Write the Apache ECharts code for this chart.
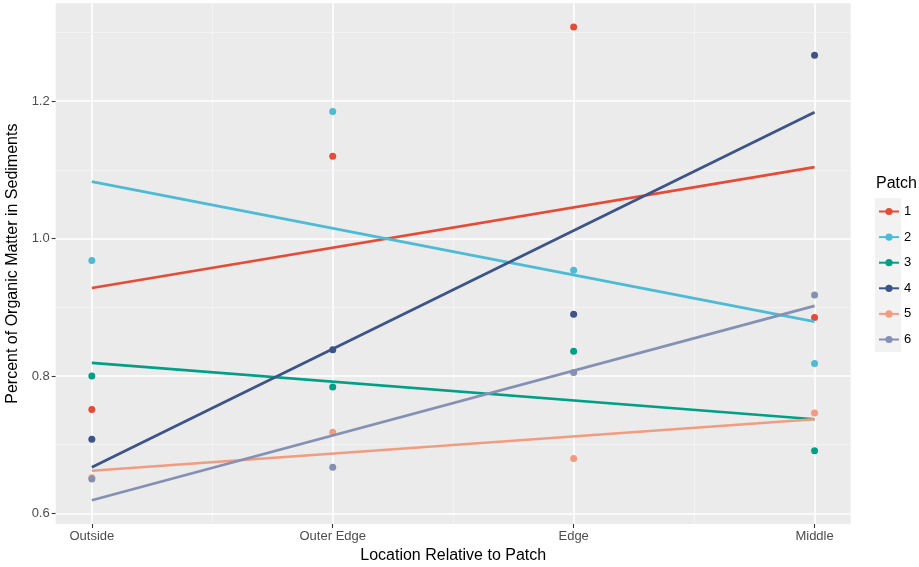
<!DOCTYPE html>
<html>
<head>
<meta charset="utf-8">
<script src="https://cdn.jsdelivr.net/npm/echarts@6/dist/echarts.min.js"></script>
<style>html,body{margin:0;padding:0;background:#fff}#c{width:919px;height:567px}</style>
</head>
<body>
<div id="c"></div>
<script>
// ---- data ----
var categories = ['Outside', 'Outer Edge', 'Edge', 'Middle'];
var patches = ['1', '2', '3', '4', '5', '6'];
var patch1 = [0.751, 1.120, 1.308, 0.885];
var patch2 = [0.968, 1.185, 0.954, 0.818];
var patch3 = [0.800, 0.784, 0.836, 0.691];
var patch4 = [0.708, 0.838, 0.890, 1.267];
var patch5 = [0.652, 0.718, 0.680, 0.746];
var patch6 = [0.650, 0.667, 0.805, 0.918];
// fitted trend line values at Outside and Middle
var fitOutside = [0.928, 1.083, 0.819, 0.667, 0.662, 0.619];
var fitMiddle  = [1.104, 0.879, 0.737, 1.184, 0.737, 0.902];
var yTicks = [0.6, 0.8, 1.0, 1.2];
var yMinor = [0.7, 0.9, 1.1, 1.3];
var xMinor = [1.5, 2.5, 3.5];

var colors = ['#E64B35', '#4DBBD5', '#00A087', '#3C5488', '#F39B7F', '#8491B4'];
var patchValues = [patch1, patch2, patch3, patch4, patch5, patch6];
var xPos = categories.map(function (c, i) { return i + 1; });

var chart = echarts.init(document.getElementById('c'), null, {renderer: 'canvas'});

var series = [];
// grid lines (panel decoration) on a dummy series
var gridLines = [];
xPos.forEach(function (x) { gridLines.push({xAxis: x, lineStyle: {color: '#ffffff', width: 1.6, type: 'solid'}}); });
xMinor.forEach(function (x) { gridLines.push({xAxis: x, lineStyle: {color: '#f5f5f5', width: 0.8, type: 'solid'}}); });
yTicks.forEach(function (y) { gridLines.push({yAxis: y, lineStyle: {color: '#ffffff', width: 1.6, type: 'solid'}}); });
yMinor.forEach(function (y) { gridLines.push({yAxis: y, lineStyle: {color: '#f5f5f5', width: 0.8, type: 'solid'}}); });
series.push({
  type: 'line', name: '_grid', data: [], z: 1, silent: true,
  markLine: {silent: true, symbol: ['none', 'none'], label: {show: false}, animation: false, data: gridLines, z: 1}
});

patches.forEach(function (p, i) {
  series.push({
    type: 'line', name: p, z: 4,
    data: [[1, fitOutside[i]], [categories.length, fitMiddle[i]]],
    showSymbol: false, symbol: 'circle', symbolSize: 7,
    lineStyle: {color: colors[i], width: 2.7},
    itemStyle: {color: colors[i]},
    animation: false
  });
});
patches.forEach(function (p, i) {
  series.push({
    type: 'scatter', name: p, z: 3,
    data: patchValues[i].map(function (v, j) { return [xPos[j], v]; }),
    symbol: 'circle', symbolSize: 7,
    itemStyle: {color: colors[i], opacity: 1},
    animation: false
  });
});

var option = {
  animation: false,
  backgroundColor: '#ffffff',
  title: [{
    text: 'Patch', left: 876, top: 176, padding: 0,
    textStyle: {fontFamily: 'Liberation Sans', fontSize: 16, fontWeight: 'normal', color: '#000000'}
  }],
  graphic: [{
    type: 'rect', left: 875, top: 198, z: 0,
    shape: {width: 26, height: 154},
    style: {fill: '#f2f2f2'}
  }],
  legend: {
    data: patches, orient: 'vertical', left: 878, top: 205, padding: 0,
    itemWidth: 20, itemHeight: 9, itemGap: 12.6,
    textStyle: {fontFamily: 'Liberation Sans', fontSize: 13, color: '#000000'},
    selectedMode: false
  },
  grid: {
    left: 55.7, right: 68.3, top: 3.3, bottom: 43,
    containLabel: false, outerBoundsMode: 'none',
    show: true, backgroundColor: '#EBEBEB', borderWidth: 0
  },
  xAxis: {
    type: 'value', min: 0.85, max: 4.15,
    name: 'Location Relative to Patch', nameLocation: 'middle', nameGap: 24,
    nameTextStyle: {fontFamily: 'Liberation Sans', fontSize: 16, color: '#000000'},
    axisLine: {show: false},
    axisTick: {show: true, length: 4, lineStyle: {color: '#333333', width: 1.1}, customValues: xPos},
    axisLabel: {
      customValues: xPos, margin: 6,
      fontFamily: 'Liberation Sans', fontSize: 13, color: '#4D4D4D',
      formatter: function (v) { return categories[Math.round(v) - 1] || ''; }
    },
    splitLine: {show: false}
  },
  yAxis: {
    type: 'value', min: 0.5845, max: 1.3425,
    name: 'Percent of Organic Matter in Sediments', nameLocation: 'middle', nameGap: 30, nameRotate: 90,
    nameTextStyle: {fontFamily: 'Liberation Sans', fontSize: 16, color: '#000000'},
    axisLine: {show: false},
    axisTick: {show: true, length: 4, lineStyle: {color: '#333333', width: 1.1}, customValues: yTicks},
    axisLabel: {
      customValues: yTicks, margin: 6,
      fontFamily: 'Liberation Sans', fontSize: 13, color: '#4D4D4D',
      formatter: function (v) { return v.toFixed(1); }
    },
    splitLine: {show: false}
  },
  series: series
};
chart.setOption(option);
</script>
</body>
</html>
